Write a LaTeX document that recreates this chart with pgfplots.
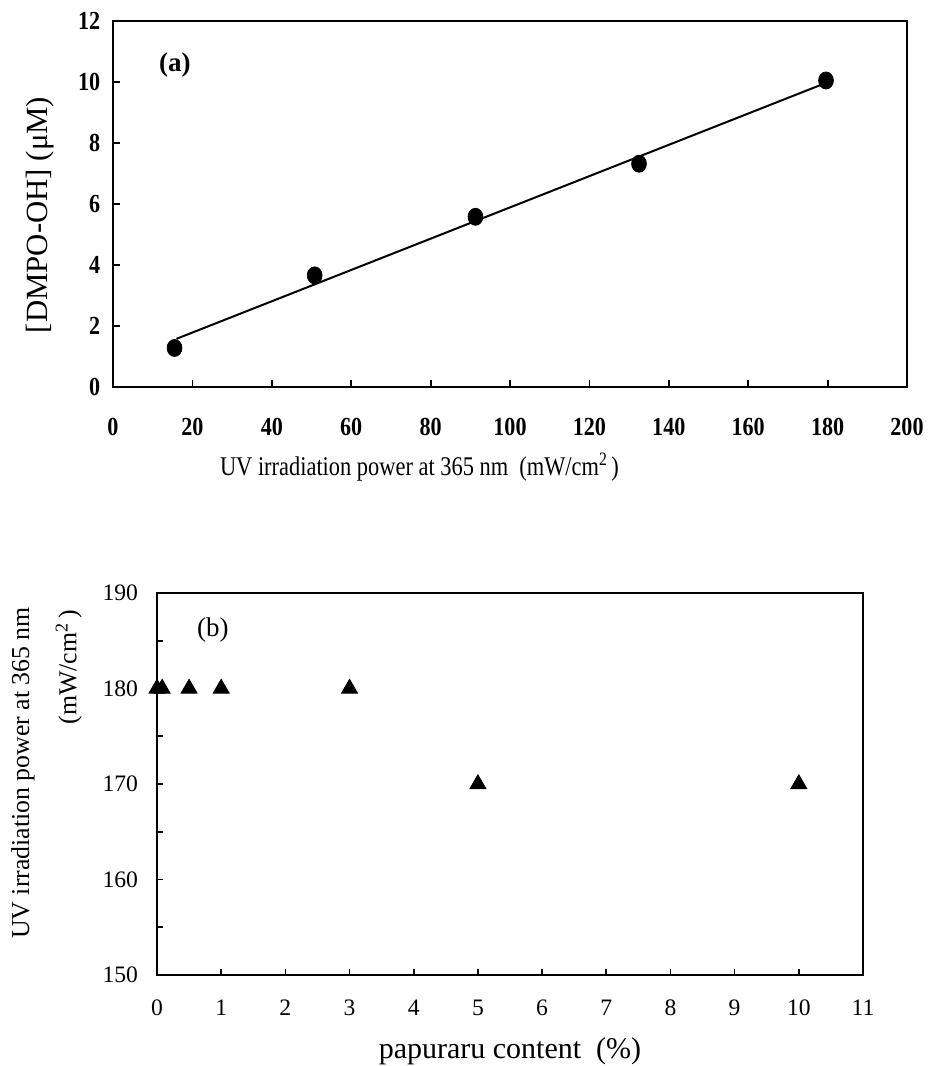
\documentclass[border=0pt]{standalone}
\usepackage{pgfplots}
\pgfplotsset{compat=1.18}
\usepackage{fontspec}
\setmainfont{Liberation Serif}

\begin{document}
\begin{tikzpicture}[x=1pt,y=1pt]
% page frame, same proportions as the reference
\path (0,0) rectangle (462.5,533);

% (a) DMPO-OH vs UV power
\begin{axis}[
    at={(56.5pt,339.5pt)}, anchor=south west,
    scale only axis,
    width=397pt, height=183pt,
    xmin=0, xmax=200, ymin=0, ymax=12,
    xtick={0,20,...,200}, ytick={0,2,...,12},
    tick align=inside, xtick pos=bottom, ytick pos=left,
    major tick length=3.5pt,
    axis line style={line width=1pt},
    tick style={line width=0.9pt, black},
    /pgf/number format/assume math mode=true,
    ticklabel style={font=\fontsize{13}{15}\selectfont\bfseries, xscale=0.85},
    xticklabel style={yshift=-12pt},
    yticklabel style={xshift=-4pt},
    xlabel={UV irradiation power at 365 nm\ \ (mW/cm\textsuperscript{2}\,)},
    xlabel style={font=\fontsize{13.5}{16}\selectfont, xscale=0.83,
        at={(axis description cs:0.386,-0.219)}, anchor=center},
    ylabel={[DMPO-OH] (μM)},
    ylabel style={font=\fontsize{15.4}{18}\selectfont,
        at={(axis description cs:-0.092,0.47)}, anchor=center},
    clip=false,
]
\addplot[black, line width=1pt, no marks] coordinates {(16,1.58) (179,9.94)};
\addplot[only marks, mark=*, mark size=3.7pt, black, mark options={yscale=1.15}]
    coordinates {(15.5,1.28) (50.8,3.66) (91.3,5.58) (132.5,7.32) (179.6,10.05)};
\node[font=\fontsize{13.5}{15}\selectfont\bfseries] at (axis description cs:0.078,0.88) {(a)};
\end{axis}

% (b) UV power vs papuraru content
\begin{axis}[
    at={(78.5pt,45.5pt)}, anchor=south west,
    scale only axis,
    width=353pt, height=191pt,
    xmin=0, xmax=11, ymin=150, ymax=190,
    xtick={0,1,...,11}, ytick={150,160,...,190},
    minor ytick={155,165,175,185},
    tick align=inside, xtick pos=bottom, ytick pos=left,
    major tick length=3pt, minor tick length=3pt,
    axis line style={line width=0.8pt},
    tick style={line width=0.8pt, black},
    /pgf/number format/assume math mode=true,
    ticklabel style={font=\fontsize{11.8}{13}\selectfont},
    xticklabel style={yshift=-9pt},
    yticklabel style={xshift=-6pt},
    xlabel={papuraru content\ \ (\%)},
    xlabel style={font=\fontsize{15}{17}\selectfont, inner sep=0pt,
        at={(axis description cs:0.5,-0.199)}, anchor=center},
    ylabel={UV irradiation power at 365 nm},
    ylabel style={font=\fontsize{12.9}{15}\selectfont,
        at={(axis description cs:-0.19,0.529)}, anchor=center},
    clip=false,
]
\addplot[only marks, mark=triangle*, mark size=4.6pt, black]
    coordinates {(0,180) (0.08,180) (0.5,180) (1,180) (3,180) (5,170) (10,170)};
\node[rotate=90, font=\fontsize{12.9}{15}\selectfont] at (axis description cs:-0.125,0.806)
    {(mW/cm\textsuperscript{2}\,)};
\node[font=\fontsize{13.5}{15}\selectfont] at (axis description cs:0.079,0.903) {(b)};
\end{axis}
\end{tikzpicture}
\end{document}
